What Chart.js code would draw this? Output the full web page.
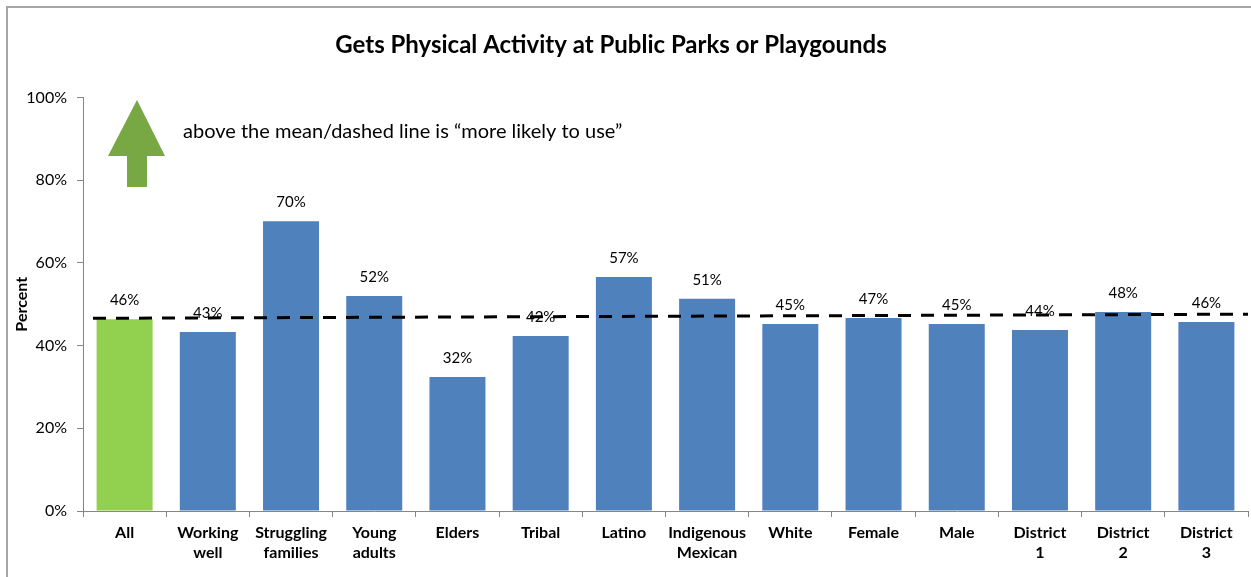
<!DOCTYPE html>
<html><head><meta charset="utf-8">
<script src="https://cdn.jsdelivr.net/npm/chart.js@4.4.1/dist/chart.umd.min.js"></script>
<style>
html,body{margin:0;padding:0;background:#fff;overflow:hidden;width:1251px;height:577px}
#frame{position:absolute;left:6px;top:6px;width:1400px;height:800px;border:2px solid #a6a6a6;box-sizing:border-box}
#wrap{position:absolute;left:0;top:0;width:1251px;height:577px}
</style></head><body>
<div id="frame"></div>
<div id="wrap"><canvas id="c" width="1251" height="577"></canvas></div>
<script>
const chartTitle = 'Gets Physical Activity at Public Parks or Playgounds';
const noteText = 'above the mean/dashed line is \u201Cmore likely to use\u201D';
const yAxisTitle = 'Percent';
const categories = [['All'],['Working','well'],['Struggling','families'],['Young','adults'],['Elders'],['Tribal'],['Latino'],['Indigenous','Mexican'],['White'],['Female'],['Male'],['District','1'],['District','2'],['District','3']];
const percentValues = [46.4, 43.3, 70.1, 52.0, 32.4, 42.3, 56.6, 51.3, 45.2, 46.7, 45.2, 43.8, 48.1, 45.7];
const barColors = ['#92D050','#4F81BD','#4F81BD','#4F81BD','#4F81BD','#4F81BD','#4F81BD','#4F81BD','#4F81BD','#4F81BD','#4F81BD','#4F81BD','#4F81BD','#4F81BD'];
const meanLineX = [-0.38, 13.5];
const meanLineY = [46.6, 47.6];
const yTickMin = 0, yTickMax = 100, yTickStep = 20;

const FONT = 'Lato, "Open Sans", sans-serif';

const decor = {
  id: 'decor',
  afterDatasetsDraw(chart) {
    const ctx = chart.ctx;
    const meta = chart.getDatasetMeta(1);
    ctx.save();
    ctx.fillStyle = '#000';
    ctx.font = '15px ' + FONT;
    ctx.textAlign = 'center';
    ctx.textBaseline = 'bottom';
    meta.data.forEach((bar, i) => {
      ctx.fillText(Math.round(percentValues[i]) + '%', bar.x, bar.y - 11);
    });
    ctx.restore();
  },
  afterDraw(chart) {
    const ctx = chart.ctx;
    ctx.save();
    ctx.fillStyle = '#000';
    ctx.font = 'bold 24px ' + FONT;
    ctx.textAlign = 'center';
    ctx.textBaseline = 'middle';
    ctx.fillText(chartTitle, 611, 45);
    ctx.fillStyle = '#77A844';
    ctx.beginPath();
    ctx.moveTo(137, 100);
    ctx.lineTo(165, 156);
    ctx.lineTo(147, 156);
    ctx.lineTo(147, 187);
    ctx.lineTo(127, 187);
    ctx.lineTo(127, 156);
    ctx.lineTo(108, 156);
    ctx.closePath();
    ctx.fill();
    ctx.fillStyle = '#000';
    ctx.font = '20px ' + FONT;
    ctx.textAlign = 'left';
    ctx.fillText(noteText, 183, 132);
    ctx.restore();
  }
};

new Chart(document.getElementById('c'), {
  type: 'bar',
  data: {
    labels: categories,
    datasets: [
      {
        type: 'line',
        data: meanLineX.map((x, i) => ({x: x, y: meanLineY[i]})),
        xAxisID: 'xl',
        borderColor: '#000',
        borderWidth: 3,
        borderDash: [13, 10],
        pointRadius: 0,
        fill: false,
        clip: false,
        order: 0
      },
      {
        type: 'bar',
        data: percentValues,
        xAxisID: 'x',
        backgroundColor: barColors,
        borderWidth: 0,
        grouped: false,
        barPercentage: 0.673,
        categoryPercentage: 1,
        order: 1
      }
    ]
  },
  options: {
    responsive: false,
    animation: false,
    devicePixelRatio: 1,
    layout: {padding: {top: 97.5, right: 3, left: 0, bottom: 0}},
    plugins: {legend: {display: false}, tooltip: {enabled: false}, title: {display: false}},
    scales: {
      x: {
        type: 'category',
        offset: true,
        grid: {display: true, drawOnChartArea: false, tickLength: 6, color: '#868686', offset: true},
        border: {color: '#868686', width: 1},
        ticks: {color: '#000', font: {family: FONT, size: 16, weight: 'bold', lineHeight: 1.3}, padding: 5, maxRotation: 0, autoSkip: false},
        afterFit(s) { s.height = 66; }
      },
      xl: {
        type: 'linear', display: false, offset: false, bounds: 'data', min: -0.5, max: 13.5,
        grid: {offset: false}
      },
      y: {
        min: yTickMin, max: yTickMax,
        grid: {display: true, drawOnChartArea: false, tickLength: 6, color: '#868686'},
        border: {color: '#868686', width: 1},
        ticks: {stepSize: yTickStep, color: '#000', font: {family: FONT, size: 16}, padding: 10, callback: v => v + '%'},
        title: {display: true, text: yAxisTitle, color: '#000', font: {family: FONT, size: 16, weight: 'bold'}, padding: {top: 12, bottom: 0}},
        afterFit(s) { s.width = 83; }
      }
    }
  },
  plugins: [decor]
});
</script>
</body></html>
